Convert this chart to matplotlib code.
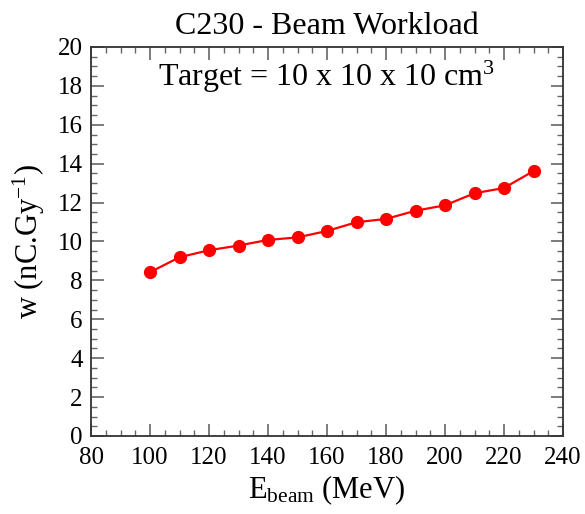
import matplotlib
matplotlib.use('Agg')
import matplotlib.pyplot as plt
from matplotlib.ticker import MultipleLocator

plt.rcParams['font.family'] = ['Liberation Serif', 'DejaVu Serif']
plt.rcParams['mathtext.fontset'] = 'custom'
plt.rcParams['mathtext.rm'] = 'Liberation Serif'
plt.rcParams['mathtext.it'] = 'Liberation Serif:italic'

# beam energy (MeV) and workload (nC/Gy)
energy = [100, 110, 120, 130, 140, 150, 160, 170, 180, 190, 200, 210, 220, 230]
workload = [8.42, 9.19, 9.55, 9.79, 10.08, 10.21, 10.54, 10.99, 11.16, 11.58, 11.86, 12.48, 12.75, 13.62]

fig = plt.figure(figsize=(5.85, 5.14), dpi=100)
ax = fig.add_axes([0.1556, 0.1518, 0.8068, 0.7568])

ax.plot(energy, workload, color='#ff0000', lw=1.6, marker='o', ms=8.5, mec='#ff0000')

ax.set_xlim(80, 240)
ax.set_ylim(0, 20)
ax.xaxis.set_major_locator(MultipleLocator(20))
ax.xaxis.set_minor_locator(MultipleLocator(5))
ax.yaxis.set_major_locator(MultipleLocator(2))
ax.yaxis.set_minor_locator(MultipleLocator(0.5))
ax.tick_params(which='both', direction='in', top=True, right=True, color='#666666', labelsize=18)
ax.tick_params(which='major', length=9, width=1.2)
ax.tick_params(which='minor', length=4.5, width=1.0)
ax.tick_params(axis='x', pad=8)
ax.tick_params(axis='y', pad=6)
for s in ax.spines.values():
    s.set_linewidth(1.3)
    s.set_color('#333333')

ax.set_title('C230 - Beam Workload', fontsize=23, pad=9)
ax.text(0.5, 0.90, 'Target = 10 x 10 x 10 cm$^{3}$', transform=ax.transAxes,
        ha='center', va='baseline', fontsize=23)
ax.set_xlabel('E$_{\\rm beam}$ (MeV)', fontsize=22, labelpad=3)
ax.set_ylabel('w (nC.Gy$^{-1}$)', fontsize=22, labelpad=8)

fig.savefig('out.png', dpi=100)
